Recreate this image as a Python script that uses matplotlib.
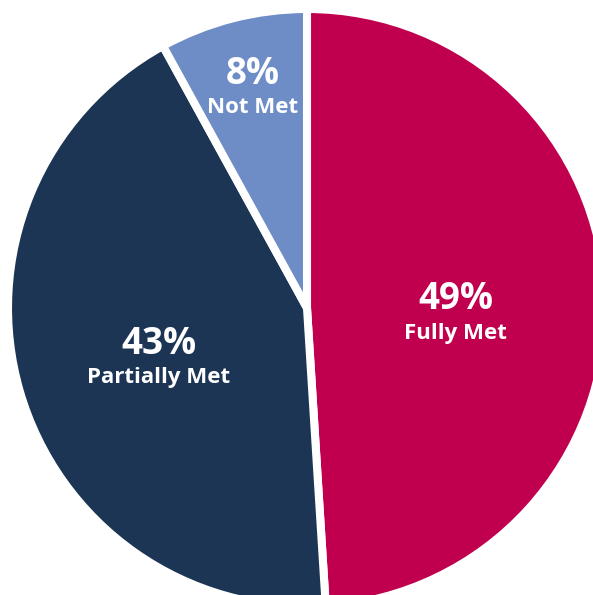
import matplotlib
matplotlib.use("Agg")
import matplotlib.pyplot as plt
import numpy as np

categories = ["Fully Met", "Partially Met", "Not Met"]
values = [49, 43, 8]
pct_labels = ["49%", "43%", "8%"]
colors = ["#C0004E", "#1C3554", "#6E8DC6"]

W, H = 593, 595
fig = plt.figure(figsize=(W / 100, H / 100), dpi=100)
ax = fig.add_axes([0, 0, 1, 1])

cx, cy, r = 307, H - 308, 299
wedges, _ = ax.pie(values, colors=colors, startangle=90, counterclock=False,
                   center=(cx, cy), radius=r, frame=True,
                   wedgeprops=dict(edgecolor="white", linewidth=5.8))
ax.set_xlim(0, W)
ax.set_ylim(0, H)
ax.set_aspect("equal")
ax.axis("off")

# label placement: fraction of radius along wedge mid-angle, plus a small shift
label_dist = [0.50, 0.51, 0.76]
shifts = [(-1, -13), (-2, -10), (2, -3)]
for w, pl, cat, d, (sx, sy) in zip(wedges, pct_labels, categories, label_dist, shifts):
    ang = np.deg2rad((w.theta1 + w.theta2) / 2)
    x = cx + d * r * np.cos(ang) + sx
    y = cy + d * r * np.sin(ang) + sy
    ax.text(x, y + 17, pl, ha="center", va="center", color="white",
            fontsize=26.5, fontweight="bold", family="Open Sans")
    ax.text(x, y - 17, cat, ha="center", va="center", color="white",
            fontsize=16, fontweight="bold", family="Open Sans")

fig.savefig("out.png", dpi=100)
